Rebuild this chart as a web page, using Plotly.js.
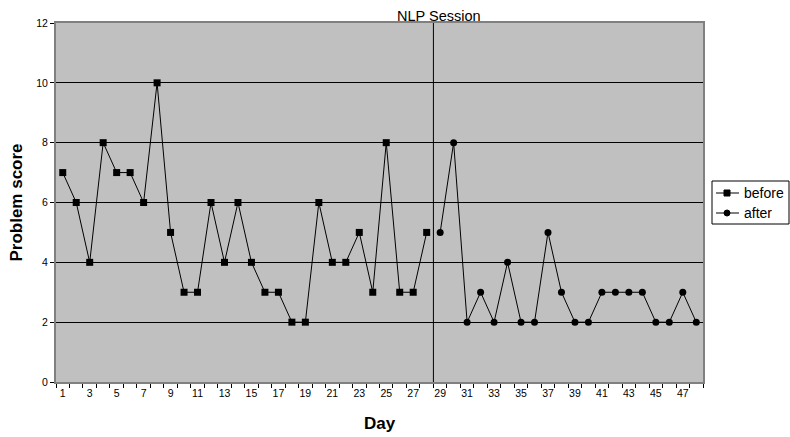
<!DOCTYPE html>
<html>
<head>
<meta charset="utf-8">
<script src="https://cdn.plot.ly/plotly-3.0.1.min.js"></script>
<style>html,body{margin:0;padding:0;background:#fff;}#chart{width:790px;height:437px;}</style>
</head>
<body>
<div id="chart"></div>
<script>
const beforeDays = [1,2,3,4,5,6,7,8,9,10,11,12,13,14,15,16,17,18,19,20,21,22,23,24,25,26,27,28];
const beforeScores = [7,6,4,8,7,7,6,10,5,3,3,6,4,6,4,3,3,2,2,6,4,4,5,3,8,3,3,5];
const afterDays = [29,30,31,32,33,34,35,36,37,38,39,40,41,42,43,44,45,46,47,48];
const afterScores = [5,8,2,3,2,4,2,2,5,3,2,2,3,3,3,3,2,2,3,2];
const xTickVals = [1,3,5,7,9,11,13,15,17,19,21,23,25,27,29,31,33,35,37,39,41,43,45,47];
const yTickVals = [0,2,4,6,8,10,12];
const seriesNames = ['before', 'after'];
const sessionDay = 28.5;

const font = "Liberation Sans, Arial, sans-serif";
const W = 790, H = 437;
const M = {l: 56, r: 87, t: 23, b: 55};
const pw = W - M.l - M.r, ph = H - M.t - M.b;
const px = x => (x - M.l) / pw;
const py = y => (H - M.b - y) / ph;

const traces = [
  {x: beforeDays, y: beforeScores, name: seriesNames[0], type: 'scatter', mode: 'lines+markers',
   line: {color: '#000', width: 1}, marker: {symbol: 'square', size: 7, color: '#000'}},
  {x: afterDays, y: afterScores, name: seriesNames[1], type: 'scatter', mode: 'lines+markers',
   line: {color: '#000', width: 1}, marker: {symbol: 'circle', size: 7, color: '#000'}}
];

// custom compact legend (Excel-like short samples)
const legendShapes = [
  {type: 'rect', xref: 'paper', yref: 'paper', x0: px(712), x1: px(789), y0: py(224), y1: py(181),
   line: {color: '#000', width: 1}, fillcolor: '#fff', layer: 'above'}
];
const legendAnn = [];
const rowsY = [193, 213];
seriesNames.forEach((nm, i) => {
  const y = rowsY[i];
  legendShapes.push({type: 'line', xref: 'paper', yref: 'paper', x0: px(716), x1: px(739), y0: py(y), y1: py(y),
    line: {color: '#000', width: 1}, layer: 'above'});
  legendShapes.push({type: i === 0 ? 'rect' : 'circle', xref: 'paper', yref: 'paper',
    x0: px(724), x1: px(730), y0: py(y + 3), y1: py(y - 3),
    line: {color: '#000', width: 1}, fillcolor: '#000', layer: 'above'});
  legendAnn.push({text: nm, xref: 'paper', yref: 'paper', x: px(742), y: py(y), xanchor: 'left', yanchor: 'middle',
    showarrow: false, font: {size: 14, family: font, color: '#000'}});
});

const layout = {
  width: W, height: H,
  margin: {l: M.l, r: M.r, t: M.t, b: M.b, autoexpand: false},
  paper_bgcolor: '#fff', plot_bgcolor: '#c0c0c0',
  font: {family: font, color: '#000', size: 10.5},
  showlegend: false,
  xaxis: {
    range: [0.5, 48.5], tickmode: 'array', tickvals: xTickVals, ticktext: xTickVals.map(String),
    ticks: '', showgrid: false, zeroline: false,
    showline: true, linecolor: '#808080', linewidth: 2, mirror: true,
    tickfont: {size: 10.5, family: font, color: '#000'},
    minor: {tick0: 0.5, dtick: 1, ticks: 'outside', ticklen: 4, tickcolor: '#000', showgrid: false},
    title: {text: 'Day', font: {size: 17, family: font, weight: 'bold'}, standoff: 20}
  },
  yaxis: {
    range: [0, 12], tickmode: 'array', tickvals: yTickVals,
    ticks: 'outside', ticklen: 4, tickcolor: '#000',
    showgrid: true, gridcolor: '#000', gridwidth: 1, zeroline: false,
    showline: true, linecolor: '#808080', linewidth: 2, mirror: true,
    tickfont: {size: 10.5, family: font, color: '#000'},
    title: {text: 'Problem score', font: {size: 17, family: font, weight: 'bold'}, standoff: 9}
  },
  shapes: [{type: 'line', xref: 'x', yref: 'paper', x0: sessionDay, x1: sessionDay, y0: 0, y1: 1,
    line: {color: '#000', width: 1}}].concat(legendShapes),
  annotations: [{text: 'NLP Session', xref: 'x', yref: 'paper', x: sessionDay, y: 1, xanchor: 'center',
    yanchor: 'bottom', xshift: 6, yshift: -3, showarrow: false, font: {size: 14.5, family: font}}].concat(legendAnn)
};
Plotly.newPlot('chart', traces, layout, {displayModeBar: false, staticPlot: true});
</script>
</body>
</html>
